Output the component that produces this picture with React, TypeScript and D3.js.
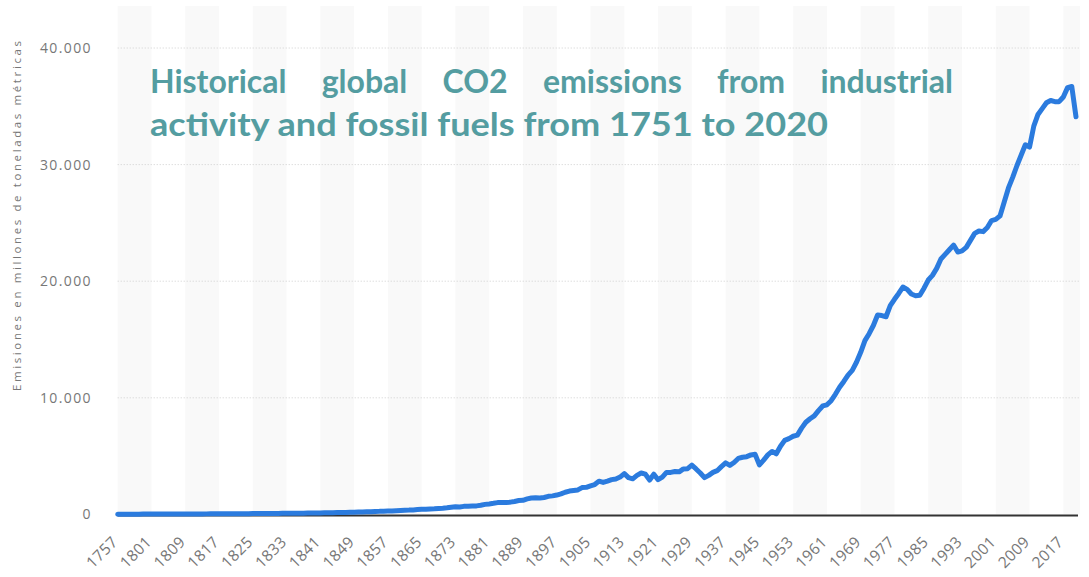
import React, { useEffect, useRef } from "react";
import * as d3 from "d3";

const earlyYears = ["1757", "1760", "1770", "1780", "1785", "1790", "1795", "1800"];
const earlyValues = [10, 11, 14, 18, 20, 23, 25, 28];

const values1801to1850 = [
  29, 32, 32, 34, 35, 36, 37, 38, 39, 40,
  41, 42, 43, 45, 47, 48, 50, 52, 53, 55,
  57, 59, 62, 64, 67, 69, 72, 75, 78, 81,
  84, 88, 91, 95, 99, 104, 109, 114, 119, 124,
  130, 136, 141, 147, 154, 162, 170, 178, 186, 197,
];
const values1851to1900 = [
  205, 218, 232, 255, 262, 280, 290, 298, 318, 340,
  360, 368, 385, 410, 432, 445, 470, 480, 505, 530,
  570, 620, 665, 640, 690, 705, 720, 730, 780, 860,
  900, 950, 1010, 1020, 1030, 1050, 1110, 1190, 1210, 1330,
  1400, 1420, 1400, 1450, 1550, 1590, 1660, 1760, 1900, 2000,
];
const values1901to1950 = [
  2050, 2100, 2300, 2320, 2450, 2560, 2850, 2740, 2850, 2980,
  3040, 3200, 3500, 3150, 3050, 3350, 3550, 3450, 2950, 3450,
  2980, 3200, 3600, 3600, 3680, 3650, 3900, 3920, 4220, 3900,
  3550, 3150, 3350, 3600, 3750, 4100, 4420, 4200, 4450, 4800,
  4900, 4950, 5100, 5150, 4250, 4650, 5100, 5400, 5200, 5850,
];
const values1951to2000 = [
  6350, 6500, 6700, 6800, 7400, 7900, 8200, 8450, 8900, 9300,
  9400, 9750, 10300, 10900, 11400, 11950, 12350, 13050, 13900, 14900,
  15500, 16200, 17100, 17050, 16950, 17900, 18450, 18950, 19500, 19300,
  18900, 18750, 18800, 19400, 20100, 20500, 21100, 21900, 22300, 22700,
  23100, 22500, 22600, 22900, 23500, 24100, 24300, 24250, 24600, 25200,
];
const values2001to2020 = [
  25300, 25600, 26800, 28000, 28900, 29900, 30800, 31700, 31500, 33300,
  34300, 34800, 35300, 35500, 35400, 35400, 35800, 36600, 36700, 34100,
];

const yTicks = [0, 10000, 20000, 30000, 40000];
const yTickLabels = ["0", "10.000", "20.000", "30.000", "40.000"];
const yTitle = "Emisiones en millones de toneladas métricas";
const titleLine1 = ["Historical", "global", "CO2", "emissions", "from", "industrial"];
const titleLine2 = "activity and fossil fuels from 1751 to 2020";

const categories: string[] = [...earlyYears];
for (let y = 1801; y <= 2020; y++) categories.push(String(y));
const seriesValues: number[] = [
  ...earlyValues,
  ...values1801to1850,
  ...values1851to1900,
  ...values1901to1950,
  ...values1951to2000,
  ...values2001to2020,
];

const W = 1089;
const H = 577;
const LEFT = 117.7;
const LAST_X = 1076;
const PLOT_RIGHT = 1080;
const Y0 = 514.4;
const YTOP = 48;

export default function App() {
  const ref = useRef<SVGSVGElement | null>(null);

  useEffect(() => {
    const svg = d3.select(ref.current);
    svg.selectAll("*").remove();

    const x = d3.scalePoint<string>().domain(categories).range([LEFT, LAST_X]);
    const y = d3.scaleLinear().domain([0, 40000]).range([Y0, YTOP]);
    const step = x.step();

    // alternating bands
    const labelIdx = categories.map((_, i) => i).filter((i) => i % 8 === 0);
    const bands = svg.append("g");
    labelIdx.forEach((idx, k) => {
      if (k % 2 !== 0) return;
      const x0 = x(categories[idx]) as number;
      const x1 = Math.min(x0 + step * 8, PLOT_RIGHT);
      bands
        .append("rect")
        .attr("x", x0)
        .attr("y", 6)
        .attr("width", x1 - x0)
        .attr("height", Y0 - 6)
        .attr("fill", "#f9f9f9");
    });

    // gridlines
    const grid = svg.append("g");
    yTicks.slice(1).forEach((t) => {
      grid
        .append("line")
        .attr("x1", LEFT)
        .attr("x2", PLOT_RIGHT)
        .attr("y1", y(t))
        .attr("y2", y(t))
        .attr("stroke", "#cfcfcf")
        .attr("stroke-width", 1)
        .attr("stroke-dasharray", "1,2");
    });

    // y labels
    const yl = svg.append("g");
    yTicks.forEach((t, i) => {
      yl.append("text")
        .attr("x", 92)
        .attr("y", y(t) + 5)
        .attr("text-anchor", "end")
        .attr("font-family", "'Open Sans', sans-serif")
        .attr("font-size", 14)
        .attr("letter-spacing", 1.4)
        .attr("fill", "#777")
        .text(yTickLabels[i]);
    });

    // y title
    svg
      .append("text")
      .attr("transform", `translate(21,${216}) rotate(-90)`)
      .attr("text-anchor", "middle")
      .attr("font-family", "'Open Sans', sans-serif")
      .attr("font-size", 11.5)
      .attr("fill", "#777")
      .attr("textLength", 350)
      .attr("lengthAdjust", "spacing")
      .text(yTitle);

    // x labels
    const xl = svg.append("g");
    labelIdx.forEach((idx) => {
      const cx = x(categories[idx]) as number;
      xl.append("text")
        .attr("transform", `translate(${cx + 1},${543}) rotate(-45)`)
        .attr("text-anchor", "end")
        .attr("font-family", "'Open Sans', sans-serif")
        .attr("font-size", 15.5)
        .attr("letter-spacing", 0.3)
        .attr("fill", "#777")
        .text(categories[idx]);
    });

    // axis line
    svg
      .append("line")
      .attr("x1", LEFT)
      .attr("x2", 1078)
      .attr("y1", Y0 + 1)
      .attr("y2", Y0 + 1)
      .attr("stroke", "#333")
      .attr("stroke-width", 2);

    // series line
    const line = d3
      .line<number>()
      .x((_, i) => x(categories[i]) as number)
      .y((d) => y(d));
    svg
      .append("path")
      .attr("d", line(seriesValues) as string)
      .attr("fill", "none")
      .attr("stroke", "#2b7bde")
      .attr("stroke-width", 5)
      .attr("stroke-linejoin", "round")
      .attr("stroke-linecap", "round");

    // title
    const tg = svg.append("g")
      .attr("font-family", "Lato, 'Open Sans', sans-serif")
      .attr("font-weight", 700)
      .attr("font-size", 32)
      .attr("fill", "#549da1");
    const words = titleLine1.map((w) => tg.append("text").attr("y", 93).text(w));
    const widths = words.map((t) => (t.node() as SVGTextElement).getComputedTextLength());
    const startX = 150;
    const endX = 953;
    const total = widths.reduce((a, b) => a + b, 0);
    const gap = (endX - startX - total) / (words.length - 1);
    let cur = startX;
    words.forEach((t, i) => {
      t.attr("x", cur);
      cur += widths[i] + gap;
    });
    tg.append("text")
      .attr("x", startX)
      .attr("y", 136)
      .attr("textLength", 678)
      .attr("lengthAdjust", "spacingAndGlyphs")
      .text(titleLine2);
  }, []);

  return (
    <svg
      ref={ref}
      width={W}
      height={H}
      style={{ position: "absolute", left: 0, top: 0, background: "#fff" }}
    />
  );
}
